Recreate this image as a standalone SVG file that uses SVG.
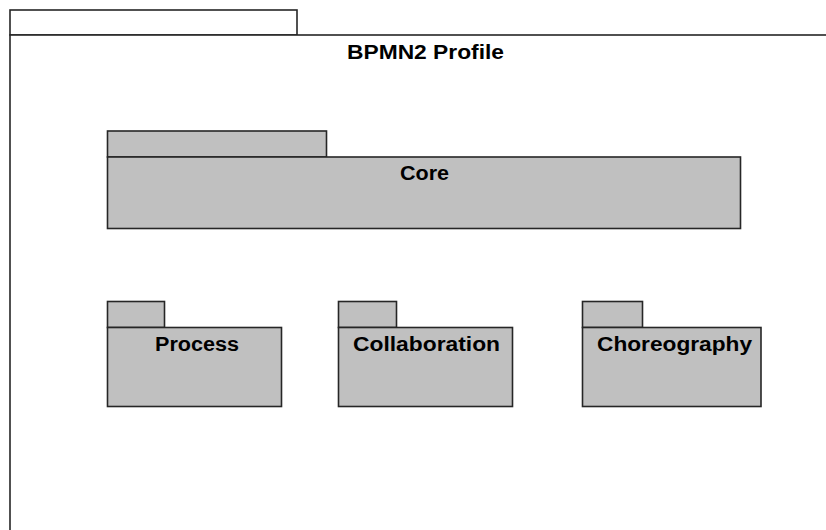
<svg xmlns="http://www.w3.org/2000/svg" width="826" height="530" viewBox="0 0 826 530">
<style>
.pk{fill:#c0c0c0;stroke:#262626;stroke-width:1.6}
.outer{fill:#ffffff;stroke:#262626;stroke-width:1.6}
.t{font-family:"Liberation Sans",Arial,sans-serif;font-weight:bold;font-size:20px;fill:#000;text-anchor:middle}
</style>
<rect width="826" height="530" fill="#ffffff"/>
<g id="bpmn2-profile">
<rect class="outer" x="10" y="10" width="287" height="25"/>
<rect class="outer" x="10" y="35" width="900" height="600"/>
<text class="t" x="425.5" y="59" textLength="157" lengthAdjust="spacingAndGlyphs">BPMN2 Profile</text>
</g>
<g id="core">
<rect class="pk" x="107.5" y="131" width="219" height="26"/>
<rect class="pk" x="107.5" y="157" width="633" height="71.5"/>
<text class="t" x="424.5" y="180" textLength="49" lengthAdjust="spacingAndGlyphs">Core</text>
</g>
<g id="process">
<rect class="pk" x="107.5" y="301.5" width="57" height="26"/>
<rect class="pk" x="107.5" y="327.5" width="174" height="79"/>
<text class="t" x="197" y="351" textLength="84" lengthAdjust="spacingAndGlyphs">Process</text>
</g>
<g id="collaboration">
<rect class="pk" x="338.5" y="301.5" width="58" height="26"/>
<rect class="pk" x="338.5" y="327.5" width="174" height="79"/>
<text class="t" x="426.5" y="351" textLength="147" lengthAdjust="spacingAndGlyphs">Collaboration</text>
</g>
<g id="choreography">
<rect class="pk" x="582.5" y="301.5" width="60" height="26"/>
<rect class="pk" x="582.5" y="327.5" width="178.5" height="79"/>
<text class="t" x="674.5" y="351" textLength="155" lengthAdjust="spacingAndGlyphs">Choreography</text>
</g>
<g id="connectors"></g>
</svg>
